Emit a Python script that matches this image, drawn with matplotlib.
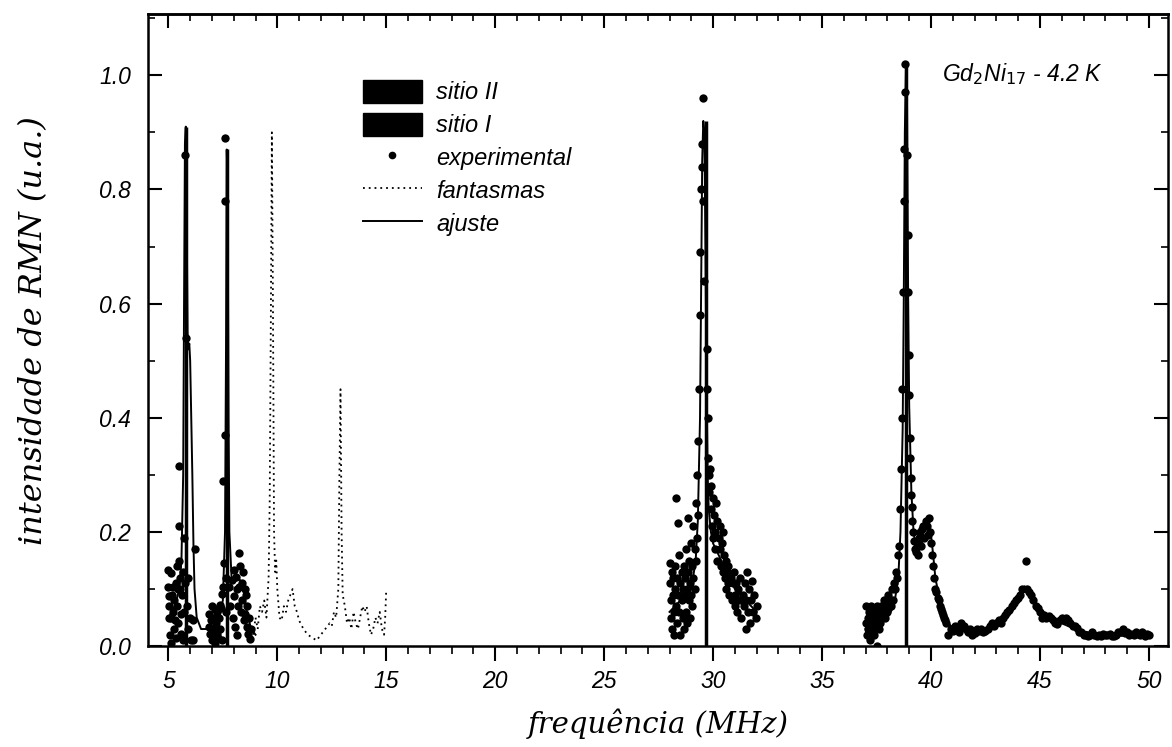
import matplotlib.pyplot as plt
from matplotlib.patches import Patch
from matplotlib.lines import Line2D
from matplotlib.ticker import MultipleLocator

# experimental points, 5-9 MHz
exp1_f = [4.98, 5.00, 5.02, 5.03, 5.05, 5.07, 5.10, 5.12, 5.14, 5.17, 5.20, 5.22, 5.25, 5.28,
          5.30, 5.33, 5.35, 5.38, 5.40, 5.43, 5.45, 5.47, 5.48, 5.50, 5.53, 5.55, 5.58, 5.60,
          5.62, 5.65, 5.68, 5.70, 5.73, 5.75, 5.78, 5.80, 5.84, 5.88, 5.92, 5.97, 6.02, 6.12,
          6.12, 6.20,
          6.85, 6.88, 6.92, 6.95, 6.98, 7.02, 7.05, 7.08, 7.12, 7.15, 7.18, 7.22, 7.25, 7.28,
          7.32, 7.35, 7.38, 7.42, 7.45, 7.48, 7.50, 7.52, 7.55, 7.58, 7.60, 7.62, 7.64, 7.66,
          7.80, 7.85, 7.90, 7.95, 8.00, 8.03, 8.06, 8.10, 8.13, 8.16, 8.20, 8.23, 8.26, 8.30,
          8.33, 8.36, 8.40, 8.43, 8.46, 8.50, 8.53, 8.56, 8.60, 8.63, 8.66, 8.70, 8.75, 8.80]
exp1_i = [0.133, 0.104, 0.087, 0.070, 0.050, 0.020, 0.005, 0.050, 0.128, 0.090, 0.104, 0.060,
          0.080, 0.030, 0.046, 0.110, 0.015, 0.140, 0.070, 0.040, 0.100, 0.210, 0.315, 0.150,
          0.120, 0.100, 0.057, 0.022, 0.090, 0.010, 0.130, 0.190, 0.060, 0.860, 0.110, 0.540,
          0.070, 0.030, 0.120, 0.050, 0.010, 0.045, 0.010, 0.170,
          0.034, 0.057, 0.022, 0.045, 0.070, 0.010, 0.050, 0.030, 0.065, 0.005, 0.040, 0.022,
          0.060, 0.015, 0.050, 0.072, 0.030, 0.066, 0.010, 0.092, 0.290, 0.104, 0.145, 0.370,
          0.780, 0.890, 0.060, 0.120,
          0.104, 0.070, 0.116, 0.050, 0.133, 0.087, 0.034, 0.122, 0.020, 0.100, 0.070, 0.163,
          0.104, 0.140, 0.060, 0.110, 0.080, 0.130, 0.045, 0.100, 0.057, 0.090, 0.034, 0.070,
          0.022, 0.050, 0.013, 0.030]

# experimental points, 28-32 MHz
exp2_f = [28.00, 28.00, 28.05, 28.05, 28.10, 28.10, 28.15, 28.15, 28.20, 28.20, 28.25, 28.25,
          28.30, 28.30, 28.35, 28.35, 28.40, 28.40, 28.45, 28.45, 28.50, 28.50, 28.55, 28.55,
          28.60, 28.60, 28.65, 28.65, 28.70, 28.70, 28.75, 28.75, 28.80, 28.80, 28.85, 28.85,
          28.90, 28.90, 28.95, 28.95, 29.00, 29.00, 29.05, 29.05, 29.10, 29.10, 29.15, 29.15,
          29.20, 29.20, 29.25, 29.25, 29.30, 29.30, 29.35, 29.40, 29.42, 29.45, 29.47, 29.50,
          29.52, 29.55, 29.60, 29.70, 29.72, 29.75, 29.78, 29.80, 29.82, 29.85, 29.90, 29.92,
          29.95, 30.00, 30.00, 30.05, 30.10, 30.10, 30.15, 30.20, 30.20, 30.25, 30.30, 30.30,
          30.35, 30.40, 30.45, 30.45, 30.50, 30.55, 30.60, 30.60, 30.65, 30.70, 30.70, 30.75,
          30.80, 30.85, 30.90, 30.95, 31.00, 31.00, 31.05, 31.10, 31.15, 31.20, 31.25, 31.30,
          31.35, 31.40, 31.45, 31.50, 31.50, 31.55, 31.60, 31.65, 31.70, 31.75, 31.80, 31.85,
          31.90, 31.95, 32.00]
exp2_i = [0.145, 0.110, 0.080, 0.050, 0.130, 0.030, 0.090, 0.120, 0.060, 0.020, 0.100, 0.140,
          0.260, 0.070, 0.120, 0.040, 0.215, 0.090, 0.160, 0.060, 0.110, 0.020, 0.130, 0.080,
          0.050, 0.100, 0.140, 0.030, 0.090, 0.120, 0.060, 0.170, 0.100, 0.040, 0.225, 0.130,
          0.080, 0.150, 0.110, 0.050, 0.180, 0.090, 0.140, 0.070, 0.210, 0.120, 0.170, 0.100,
          0.250, 0.150, 0.300, 0.190, 0.360, 0.230, 0.450, 0.580, 0.690, 0.800, 0.840, 0.880,
          0.960, 0.780, 0.640, 0.520, 0.450, 0.400, 0.330, 0.300, 0.270, 0.310, 0.240, 0.280,
          0.210, 0.260, 0.190, 0.230, 0.200, 0.170, 0.250, 0.220, 0.150, 0.190, 0.170, 0.210,
          0.140, 0.180, 0.200, 0.130, 0.160, 0.120, 0.150, 0.100, 0.130, 0.110, 0.140, 0.090,
          0.120, 0.080, 0.110, 0.130, 0.090, 0.070, 0.110, 0.060, 0.100, 0.080, 0.120, 0.050,
          0.090, 0.070, 0.110, 0.030, 0.080, 0.130, 0.060, 0.100, 0.040, 0.080, 0.115, 0.060,
          0.090, 0.050, 0.070]

# experimental points, 37-50 MHz
exp3_f = [37.00, 37.00, 37.05, 37.10, 37.10, 37.15, 37.20, 37.20, 37.25, 37.30, 37.35, 37.40,
          37.40, 37.45, 37.50, 37.50, 37.55, 37.60, 37.60, 37.65, 37.70, 37.75, 37.80, 37.85,
          37.90, 37.95, 38.00, 38.05, 38.10, 38.15, 38.20, 38.25, 38.30, 38.35, 38.40, 38.45,
          38.50, 38.55, 38.60, 38.62, 38.65, 38.68, 38.72, 38.75, 38.78, 38.80, 38.82, 38.90,
          38.93, 38.96, 38.98, 39.00, 39.02, 39.05, 39.08, 39.10, 39.12, 39.15, 39.18, 39.20,
          39.25, 39.30, 39.35, 39.40, 39.45, 39.50, 39.55, 39.60, 39.65, 39.70, 39.75, 39.80,
          39.85, 39.90, 39.95, 40.00, 40.05, 40.10, 40.15, 40.20, 40.25, 40.30, 40.35, 40.40,
          40.45, 40.50, 40.55, 40.60, 40.65, 40.70, 40.80, 40.90, 41.00, 41.10, 41.20, 41.30,
          41.40, 41.50, 41.60, 41.70, 41.80, 41.90, 42.00, 42.10, 42.20, 42.30, 42.40, 42.50,
          42.60, 42.70, 42.80, 42.90, 43.00, 43.10, 43.20, 43.30, 43.40, 43.50, 43.60, 43.70,
          43.80, 43.90, 44.00, 44.10, 44.20, 44.35, 44.40, 44.50, 44.60, 44.70, 44.80, 44.90,
          45.00, 45.10, 45.20, 45.30, 45.40, 45.50, 45.60, 45.70, 45.80, 45.90, 46.00, 46.10,
          46.20, 46.30, 46.40, 46.50, 46.60, 46.70, 46.80, 46.90, 47.00, 47.10, 47.20, 47.30,
          47.40, 47.50, 47.60, 47.70, 47.80, 47.90, 48.00, 48.10, 48.20, 48.30, 48.40, 48.50,
          48.60, 48.70, 48.80, 48.90, 49.00, 49.10, 49.20, 49.30, 49.40, 49.50, 49.60, 49.70,
          49.80, 49.90, 50.00]
exp3_i = [0.040, 0.070, 0.020, 0.050, 0.030, 0.060, 0.040, 0.010, 0.070, 0.030, 0.050, 0.060,
          0.020, 0.040, 0.070, 0.000, 0.050, 0.030, 0.060, 0.040, 0.070, 0.050, 0.060, 0.080,
          0.050, 0.070, 0.060, 0.090, 0.080, 0.070, 0.100, 0.080, 0.110, 0.100, 0.130, 0.120,
          0.160, 0.175, 0.240, 0.310, 0.400, 0.450, 0.620, 0.780, 0.870, 0.970, 1.020, 0.860,
          0.720, 0.620, 0.510, 0.440, 0.365, 0.330, 0.295, 0.265, 0.243, 0.220, 0.200, 0.185,
          0.170, 0.165, 0.180, 0.160, 0.190, 0.200, 0.175, 0.205, 0.210, 0.190, 0.220, 0.210,
          0.195, 0.225, 0.200, 0.180, 0.160, 0.140, 0.120, 0.100, 0.095, 0.085, 0.080, 0.070,
          0.065, 0.060, 0.055, 0.050, 0.045, 0.040, 0.020, 0.030, 0.026, 0.035, 0.030, 0.025,
          0.040, 0.035, 0.030, 0.025, 0.030, 0.020, 0.023, 0.030, 0.026, 0.030, 0.025, 0.026,
          0.030, 0.035, 0.040, 0.035, 0.040, 0.045, 0.040, 0.050, 0.055, 0.060, 0.064, 0.070,
          0.075, 0.080, 0.085, 0.090, 0.100, 0.150, 0.100, 0.095, 0.090, 0.080, 0.070, 0.067,
          0.060, 0.050, 0.055, 0.050, 0.053, 0.050, 0.045, 0.040, 0.038, 0.045, 0.050, 0.045,
          0.050, 0.045, 0.040, 0.035, 0.035, 0.032, 0.025, 0.025, 0.020, 0.020, 0.018, 0.020,
          0.025, 0.020, 0.018, 0.020, 0.018, 0.022, 0.020, 0.020, 0.022, 0.018, 0.018, 0.020,
          0.025, 0.025, 0.030, 0.023, 0.025, 0.020, 0.022, 0.020, 0.025, 0.022, 0.020, 0.025,
          0.018, 0.022, 0.020]

# "fantasmas" (ghost signals), 9-15 MHz
fant_f = [8.90, 9.00, 9.10, 9.20, 9.30, 9.40, 9.50, 9.60, 9.65, 9.70, 9.75, 9.80, 9.85, 9.90,
          9.95, 10.00, 10.10, 10.20, 10.30, 10.40, 10.50, 10.60, 10.70, 10.80, 10.90, 11.00,
          11.20, 11.40, 11.60, 11.80, 12.00, 12.20, 12.40, 12.50, 12.60, 12.70, 12.80, 12.85,
          12.90, 12.95, 13.00, 13.10, 13.20, 13.30, 13.40, 13.50, 13.60, 13.70, 13.80, 13.90,
          14.00, 14.10, 14.20, 14.30, 14.40, 14.50, 14.60, 14.70, 14.80, 14.90, 14.95, 15.00]
fant_i = [0.020, 0.050, 0.030, 0.070, 0.060, 0.080, 0.050, 0.120, 0.250, 0.550, 0.900, 0.600,
          0.200, 0.130, 0.150, 0.100, 0.050, 0.045, 0.070, 0.060, 0.080, 0.090, 0.100, 0.070,
          0.060, 0.045, 0.030, 0.020, 0.015, 0.010, 0.020, 0.030, 0.040, 0.035, 0.060, 0.050,
          0.100, 0.300, 0.450, 0.200, 0.090, 0.070, 0.040, 0.050, 0.030, 0.060, 0.040, 0.030,
          0.050, 0.070, 0.060, 0.070, 0.040, 0.020, 0.030, 0.050, 0.040, 0.060, 0.030, 0.020,
          0.050, 0.100]

# fitted curves ("ajuste")
fit1_f = [5.00, 5.30, 5.50, 5.60, 5.68, 5.72, 5.76, 5.80, 5.84, 5.88, 5.92, 5.96, 6.00, 6.05,
          6.10, 6.15, 6.20, 6.30, 6.50, 6.80, 7.00, 7.30, 7.50, 7.60, 7.65, 7.68, 7.72, 7.76,
          7.80, 7.90, 8.00, 8.20, 8.40, 8.60, 8.80, 9.00]
fit1_i = [0.05, 0.07, 0.10, 0.15, 0.30, 0.60, 0.88, 0.91, 0.75, 0.55, 0.52, 0.53, 0.50, 0.40,
          0.30, 0.18, 0.10, 0.05, 0.03, 0.03, 0.04, 0.05, 0.08, 0.20, 0.55, 0.87, 0.80, 0.40,
          0.20, 0.12, 0.11, 0.12, 0.11, 0.06, 0.03, 0.02]
fit2_f = [28.0, 28.5, 29.0, 29.2, 29.3, 29.4, 29.45, 29.5, 29.55, 29.6, 29.65, 29.7, 29.75,
          29.8, 29.9, 30.0, 30.5, 31.0, 31.5, 32.0]
fit2_i = [0.06, 0.08, 0.10, 0.15, 0.22, 0.40, 0.62, 0.85, 0.92, 0.90, 0.70, 0.45, 0.30,
          0.24, 0.20, 0.18, 0.14, 0.10, 0.08, 0.06]
fit3_f = [37.0, 37.5, 38.0, 38.3, 38.5, 38.6, 38.7, 38.75, 38.8, 38.85, 38.9, 38.95, 39.0,
          39.1, 39.2, 39.3, 39.5, 39.7, 39.9, 40.0, 40.1, 40.2, 40.4, 40.6, 40.8, 41.0, 41.5,
          42.0, 42.5, 43.0, 43.5, 43.8, 44.0, 44.2, 44.3, 44.5, 44.8, 45.0, 45.5, 46.0, 46.5,
          47.0, 47.5, 48.0, 49.0, 50.0]
fit3_i = [0.03, 0.035, 0.05, 0.07, 0.12, 0.20, 0.38, 0.60, 0.90, 1.01, 0.95, 0.62, 0.42,
          0.27, 0.20, 0.175, 0.175, 0.19, 0.205, 0.195, 0.16, 0.12, 0.08, 0.055, 0.04, 0.032,
          0.028, 0.028, 0.03, 0.036, 0.05, 0.065, 0.08, 0.10, 0.105, 0.095, 0.075, 0.065,
          0.048, 0.04, 0.032, 0.026, 0.022, 0.02, 0.018, 0.018]

# site contributions (sticks)
sitio2_f = [5.82, 29.68]
sitio2_i = [0.91, 0.92]
sitio1_f = [7.70, 38.85]
sitio1_i = [0.87, 1.02]

x_ticks = [5, 10, 15, 20, 25, 30, 35, 40, 45, 50]
y_ticks = [0.0, 0.2, 0.4, 0.6, 0.8, 1.0]

tick_font = {'family': 'Liberation Sans', 'style': 'italic', 'size': 16.5}
label_font = {'family': 'DejaVu Serif', 'style': 'italic', 'size': 21}

fig = plt.figure(figsize=(11.72, 7.47), dpi=100)
ax = fig.add_axes([0.126, 0.135, 0.871, 0.846])

ax.vlines(sitio2_f, 0, sitio2_i, color='black', lw=2.5)
ax.vlines(sitio1_f, 0, sitio1_i, color='black', lw=2.5)
ax.plot(fant_f, fant_i, color='black', ls=(0, (1, 2.2)), lw=1.3)
for ff, fi in [(fit1_f, fit1_i), (fit2_f, fit2_i), (fit3_f, fit3_i)]:
    ax.plot(ff, fi, color='black', lw=1.4)
for ef, ei in [(exp1_f, exp1_i), (exp2_f, exp2_i), (exp3_f, exp3_i)]:
    ax.plot(ef, ei, 'o', color='black', ms=6, mew=0)

ax.set_xlim(4.05, 50.9)
ax.set_ylim(0, 1.107)
ax.xaxis.set_minor_locator(MultipleLocator(1))
ax.yaxis.set_minor_locator(MultipleLocator(0.1))
ax.set_xticks(x_ticks)
ax.set_xticklabels([str(v) for v in x_ticks], fontdict=tick_font)
ax.set_yticks(y_ticks)
ax.set_yticklabels(['%.1f' % v for v in y_ticks], fontdict=tick_font)

ax.tick_params(axis='x', which='major', direction='out', length=11, width=1.5, pad=6,
               top=False)
ax.tick_params(axis='x', which='minor', direction='out', length=6, width=1.2, top=False)
ax.tick_params(axis='y', which='major', direction='in', length=10, width=1.5, pad=12,
               right=True)
ax.tick_params(axis='y', which='minor', direction='in', length=5, width=1.2, right=True)

# top axis with inward ticks, no labels
top = ax.secondary_xaxis('top')
top.set_xticks(x_ticks)
top.xaxis.set_minor_locator(MultipleLocator(1))
top.tick_params(which='major', direction='in', length=10, width=1.5, labeltop=False)
top.tick_params(which='minor', direction='in', length=5, width=1.2)
top.spines['top'].set_linewidth(1.8)

for sp in ax.spines.values():
    sp.set_linewidth(1.8)

ax.set_xlabel('frequência (MHz)', fontdict=label_font, labelpad=11)
ax.set_ylabel('intensidade de RMN (u.a.)', fontdict=dict(label_font, size=23), labelpad=36)

ax.text(0.778, 0.905, r'Gd$_2$Ni$_{17}$ - 4.2 K', transform=ax.transAxes,
        fontsize=16.5, family='Liberation Sans', style='italic', va='center')

handles = [Patch(facecolor='black', edgecolor='black'),
           Patch(facecolor='black', edgecolor='black'),
           Line2D([], [], marker='o', color='black', ls='none', ms=4.5),
           Line2D([], [], color='black', ls=(0, (1, 2.2)), lw=1.3),
           Line2D([], [], color='black', lw=1.4)]
labels = ['sitio II', 'sitio I', 'experimental', 'fantasmas', 'ajuste']
ax.legend(handles, labels, loc='upper left', bbox_to_anchor=(0.19, 0.93), frameon=False,
          prop={'family': 'Liberation Sans', 'style': 'italic', 'size': 17},
          handlelength=2.5, handleheight=1.15, labelspacing=0.35, handletextpad=0.6)

fig.savefig('out.png', dpi=100)
